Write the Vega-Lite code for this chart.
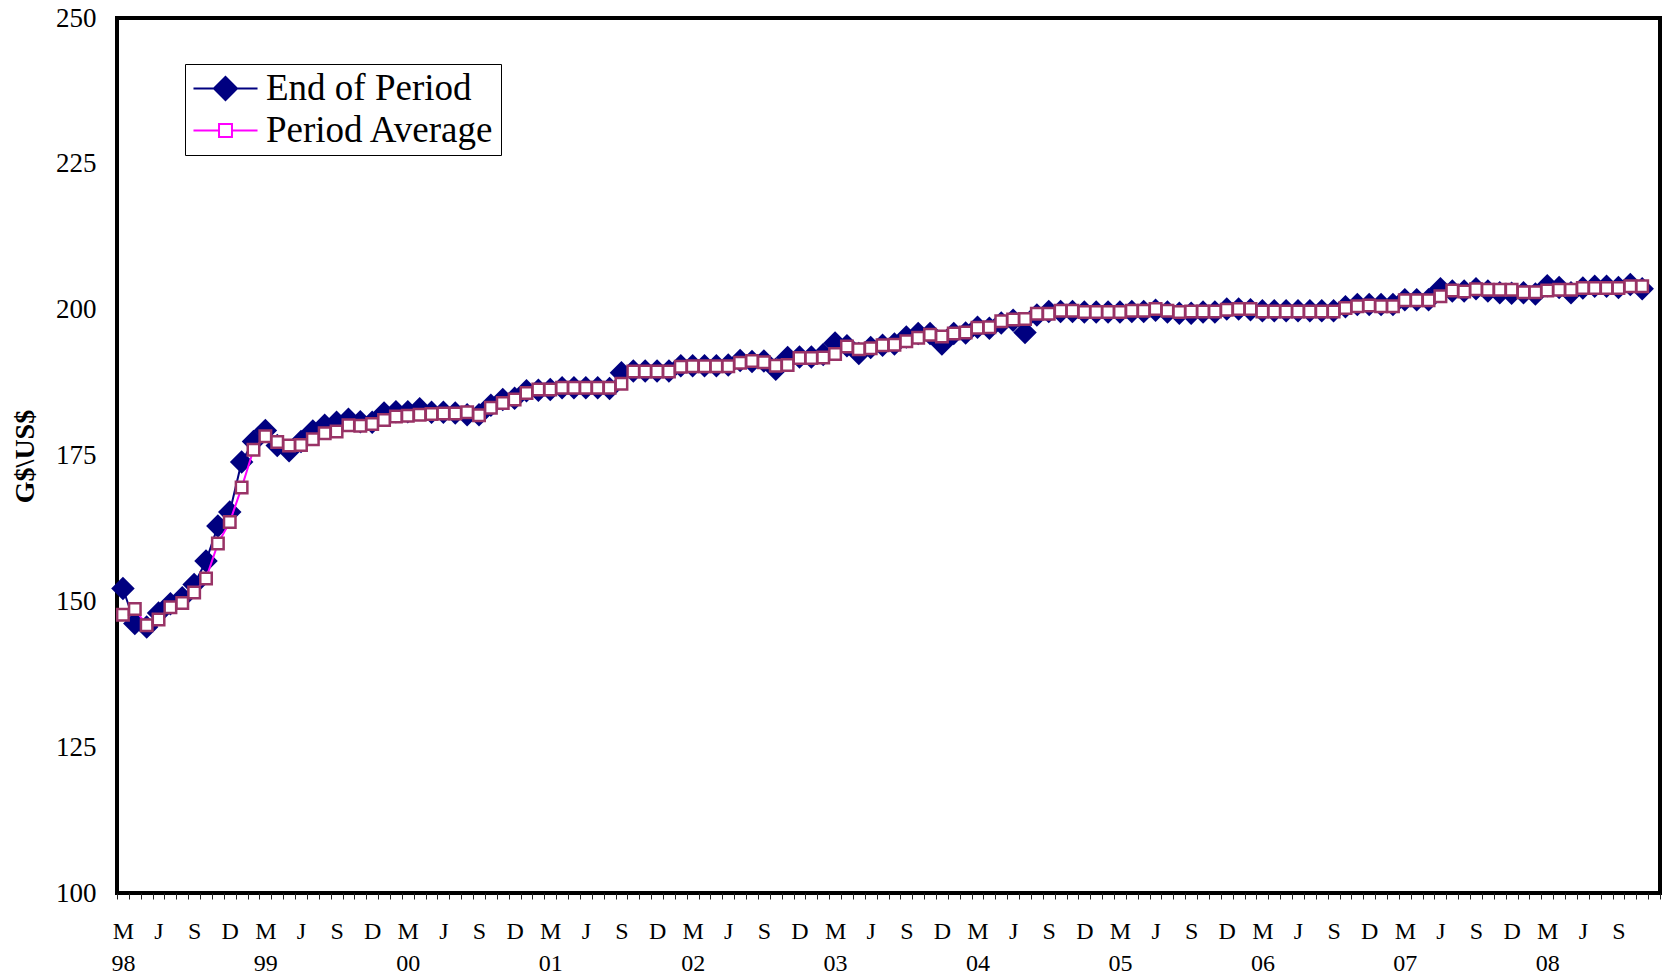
{
  "$schema": "https://vega.github.io/schema/vega-lite/v6.json",
  "width": 1543,
  "height": 875,
  "autosize": {"type": "none"},
  "padding": {"left": 117, "top": 18, "right": 9, "bottom": 87},
  "background": "white",
  "config": {
    "view": {"stroke": "#000000", "strokeWidth": 4},
    "font": "Liberation Serif"
  },
  "data": {
    "values": [
      {"m": "1998-03", "End of Period": 152.2, "Period Average": 147.7},
      {"m": "1998-04", "End of Period": 146.2, "Period Average": 148.7},
      {"m": "1998-05", "End of Period": 145.6, "Period Average": 145.9},
      {"m": "1998-06", "End of Period": 148.0, "Period Average": 146.9},
      {"m": "1998-07", "End of Period": 149.6, "Period Average": 149.0},
      {"m": "1998-08", "End of Period": 150.6, "Period Average": 149.7},
      {"m": "1998-09", "End of Period": 152.9, "Period Average": 151.5},
      {"m": "1998-10", "End of Period": 156.9, "Period Average": 153.9},
      {"m": "1998-11", "End of Period": 162.9, "Period Average": 159.9},
      {"m": "1998-12", "End of Period": 165.3, "Period Average": 163.6},
      {"m": "1999-01", "End of Period": 173.9, "Period Average": 169.5},
      {"m": "1999-02", "End of Period": 177.4, "Period Average": 176.0},
      {"m": "1999-03", "End of Period": 179.3, "Period Average": 178.3},
      {"m": "1999-04", "End of Period": 176.7, "Period Average": 177.3},
      {"m": "1999-05", "End of Period": 175.8, "Period Average": 176.7},
      {"m": "1999-06", "End of Period": 177.4, "Period Average": 176.8},
      {"m": "1999-07", "End of Period": 179.2, "Period Average": 177.8},
      {"m": "1999-08", "End of Period": 180.2, "Period Average": 178.8},
      {"m": "1999-09", "End of Period": 180.7, "Period Average": 179.1},
      {"m": "1999-10", "End of Period": 181.2, "Period Average": 180.2},
      {"m": "1999-11", "End of Period": 180.8, "Period Average": 180.1},
      {"m": "1999-12", "End of Period": 180.7, "Period Average": 180.4},
      {"m": "2000-01", "End of Period": 182.3, "Period Average": 181.1},
      {"m": "2000-02", "End of Period": 182.5, "Period Average": 181.7},
      {"m": "2000-03", "End of Period": 182.5, "Period Average": 181.8},
      {"m": "2000-04", "End of Period": 183.0, "Period Average": 182.0},
      {"m": "2000-05", "End of Period": 182.4, "Period Average": 182.1},
      {"m": "2000-06", "End of Period": 182.4, "Period Average": 182.2},
      {"m": "2000-07", "End of Period": 182.3, "Period Average": 182.2},
      {"m": "2000-08", "End of Period": 182.0, "Period Average": 182.4},
      {"m": "2000-09", "End of Period": 182.0, "Period Average": 181.9},
      {"m": "2000-10", "End of Period": 183.6, "Period Average": 183.2},
      {"m": "2000-11", "End of Period": 184.6, "Period Average": 184.0},
      {"m": "2000-12", "End of Period": 184.8, "Period Average": 184.6},
      {"m": "2001-01", "End of Period": 186.1, "Period Average": 185.7},
      {"m": "2001-02", "End of Period": 186.2, "Period Average": 186.3},
      {"m": "2001-03", "End of Period": 186.3, "Period Average": 186.3},
      {"m": "2001-04", "End of Period": 186.6, "Period Average": 186.6},
      {"m": "2001-05", "End of Period": 186.6, "Period Average": 186.6},
      {"m": "2001-06", "End of Period": 186.6, "Period Average": 186.6},
      {"m": "2001-07", "End of Period": 186.6, "Period Average": 186.6},
      {"m": "2001-08", "End of Period": 186.5, "Period Average": 186.6},
      {"m": "2001-09", "End of Period": 189.2, "Period Average": 187.3},
      {"m": "2001-10", "End of Period": 189.5, "Period Average": 189.4},
      {"m": "2001-11", "End of Period": 189.5, "Period Average": 189.4},
      {"m": "2001-12", "End of Period": 189.5, "Period Average": 189.4},
      {"m": "2002-01", "End of Period": 189.5, "Period Average": 189.4},
      {"m": "2002-02", "End of Period": 190.4, "Period Average": 190.2},
      {"m": "2002-03", "End of Period": 190.4, "Period Average": 190.3},
      {"m": "2002-04", "End of Period": 190.4, "Period Average": 190.3},
      {"m": "2002-05", "End of Period": 190.4, "Period Average": 190.3},
      {"m": "2002-06", "End of Period": 190.5, "Period Average": 190.3},
      {"m": "2002-07", "End of Period": 191.3, "Period Average": 190.9},
      {"m": "2002-08", "End of Period": 191.1, "Period Average": 191.2},
      {"m": "2002-09", "End of Period": 191.2, "Period Average": 191.0},
      {"m": "2002-10", "End of Period": 189.8, "Period Average": 190.4},
      {"m": "2002-11", "End of Period": 191.8, "Period Average": 190.5},
      {"m": "2002-12", "End of Period": 191.9, "Period Average": 191.7},
      {"m": "2003-01", "End of Period": 191.9, "Period Average": 191.7},
      {"m": "2003-02", "End of Period": 192.3, "Period Average": 191.8},
      {"m": "2003-03", "End of Period": 194.3, "Period Average": 192.4},
      {"m": "2003-04", "End of Period": 193.8, "Period Average": 193.7},
      {"m": "2003-05", "End of Period": 192.5, "Period Average": 193.2},
      {"m": "2003-06", "End of Period": 193.5, "Period Average": 193.4},
      {"m": "2003-07", "End of Period": 193.9, "Period Average": 193.9},
      {"m": "2003-08", "End of Period": 194.1, "Period Average": 194.0},
      {"m": "2003-09", "End of Period": 195.3, "Period Average": 194.6},
      {"m": "2003-10", "End of Period": 195.9, "Period Average": 195.2},
      {"m": "2003-11", "End of Period": 195.9, "Period Average": 195.7},
      {"m": "2003-12", "End of Period": 194.1, "Period Average": 195.4},
      {"m": "2004-01", "End of Period": 195.9, "Period Average": 195.9},
      {"m": "2004-02", "End of Period": 196.0, "Period Average": 196.1},
      {"m": "2004-03", "End of Period": 197.0, "Period Average": 196.9},
      {"m": "2004-04", "End of Period": 196.8, "Period Average": 197.0},
      {"m": "2004-05", "End of Period": 197.7, "Period Average": 198.0},
      {"m": "2004-06", "End of Period": 198.2, "Period Average": 198.3},
      {"m": "2004-07", "End of Period": 196.1, "Period Average": 198.4},
      {"m": "2004-08", "End of Period": 199.1, "Period Average": 199.3},
      {"m": "2004-09", "End of Period": 199.7, "Period Average": 199.3},
      {"m": "2004-10", "End of Period": 199.7, "Period Average": 199.8},
      {"m": "2004-11", "End of Period": 199.7, "Period Average": 199.8},
      {"m": "2004-12", "End of Period": 199.6, "Period Average": 199.6},
      {"m": "2005-01", "End of Period": 199.6, "Period Average": 199.6},
      {"m": "2005-02", "End of Period": 199.6, "Period Average": 199.6},
      {"m": "2005-03", "End of Period": 199.6, "Period Average": 199.6},
      {"m": "2005-04", "End of Period": 199.7, "Period Average": 199.8},
      {"m": "2005-05", "End of Period": 199.7, "Period Average": 199.8},
      {"m": "2005-06", "End of Period": 199.9, "Period Average": 200.1},
      {"m": "2005-07", "End of Period": 199.6, "Period Average": 199.8},
      {"m": "2005-08", "End of Period": 199.4, "Period Average": 199.6},
      {"m": "2005-09", "End of Period": 199.4, "Period Average": 199.7},
      {"m": "2005-10", "End of Period": 199.6, "Period Average": 199.7},
      {"m": "2005-11", "End of Period": 199.6, "Period Average": 199.7},
      {"m": "2005-12", "End of Period": 200.1, "Period Average": 200.0},
      {"m": "2006-01", "End of Period": 200.1, "Period Average": 200.1},
      {"m": "2006-02", "End of Period": 200.0, "Period Average": 200.1},
      {"m": "2006-03", "End of Period": 199.8, "Period Average": 199.7},
      {"m": "2006-04", "End of Period": 199.8, "Period Average": 199.7},
      {"m": "2006-05", "End of Period": 199.8, "Period Average": 199.7},
      {"m": "2006-06", "End of Period": 199.8, "Period Average": 199.7},
      {"m": "2006-07", "End of Period": 199.8, "Period Average": 199.7},
      {"m": "2006-08", "End of Period": 199.8, "Period Average": 199.7},
      {"m": "2006-09", "End of Period": 199.8, "Period Average": 199.7},
      {"m": "2006-10", "End of Period": 200.5, "Period Average": 200.3},
      {"m": "2006-11", "End of Period": 200.9, "Period Average": 200.6},
      {"m": "2006-12", "End of Period": 200.9, "Period Average": 200.7},
      {"m": "2007-01", "End of Period": 200.9, "Period Average": 200.6},
      {"m": "2007-02", "End of Period": 200.9, "Period Average": 200.6},
      {"m": "2007-03", "End of Period": 201.7, "Period Average": 201.6},
      {"m": "2007-04", "End of Period": 201.7, "Period Average": 201.6},
      {"m": "2007-05", "End of Period": 201.7, "Period Average": 201.6},
      {"m": "2007-06", "End of Period": 203.6, "Period Average": 202.3},
      {"m": "2007-07", "End of Period": 203.2, "Period Average": 203.3},
      {"m": "2007-08", "End of Period": 203.2, "Period Average": 203.1},
      {"m": "2007-09", "End of Period": 203.6, "Period Average": 203.5},
      {"m": "2007-10", "End of Period": 203.2, "Period Average": 203.4},
      {"m": "2007-11", "End of Period": 202.9, "Period Average": 203.4},
      {"m": "2007-12", "End of Period": 202.8, "Period Average": 203.4},
      {"m": "2008-01", "End of Period": 202.9, "Period Average": 203.0},
      {"m": "2008-02", "End of Period": 202.7, "Period Average": 203.0},
      {"m": "2008-03", "End of Period": 204.1, "Period Average": 203.3},
      {"m": "2008-04", "End of Period": 203.8, "Period Average": 203.4},
      {"m": "2008-05", "End of Period": 202.9, "Period Average": 203.4},
      {"m": "2008-06", "End of Period": 203.7, "Period Average": 203.7},
      {"m": "2008-07", "End of Period": 204.0, "Period Average": 203.7},
      {"m": "2008-08", "End of Period": 204.0, "Period Average": 203.7},
      {"m": "2008-09", "End of Period": 203.8, "Period Average": 203.7},
      {"m": "2008-10", "End of Period": 204.3, "Period Average": 204.0},
      {"m": "2008-11", "End of Period": 203.6, "Period Average": 204.0}
    ]
  },
  "transform": [
    {"fold": ["End of Period", "Period Average"], "as": ["series", "value"]}
  ],
  "encoding": {
    "x": {
      "field": "m",
      "type": "ordinal",
      "bandPosition": 0.5,
      "scale": {
        "type": "band",
        "paddingInner": 0,
        "paddingOuter": 0,
        "domain": [
          "1998-03","1998-04","1998-05","1998-06","1998-07","1998-08","1998-09","1998-10","1998-11","1998-12",
          "1999-01","1999-02","1999-03","1999-04","1999-05","1999-06","1999-07","1999-08","1999-09","1999-10","1999-11","1999-12",
          "2000-01","2000-02","2000-03","2000-04","2000-05","2000-06","2000-07","2000-08","2000-09","2000-10","2000-11","2000-12",
          "2001-01","2001-02","2001-03","2001-04","2001-05","2001-06","2001-07","2001-08","2001-09","2001-10","2001-11","2001-12",
          "2002-01","2002-02","2002-03","2002-04","2002-05","2002-06","2002-07","2002-08","2002-09","2002-10","2002-11","2002-12",
          "2003-01","2003-02","2003-03","2003-04","2003-05","2003-06","2003-07","2003-08","2003-09","2003-10","2003-11","2003-12",
          "2004-01","2004-02","2004-03","2004-04","2004-05","2004-06","2004-07","2004-08","2004-09","2004-10","2004-11","2004-12",
          "2005-01","2005-02","2005-03","2005-04","2005-05","2005-06","2005-07","2005-08","2005-09","2005-10","2005-11","2005-12",
          "2006-01","2006-02","2006-03","2006-04","2006-05","2006-06","2006-07","2006-08","2006-09","2006-10","2006-11","2006-12",
          "2007-01","2007-02","2007-03","2007-04","2007-05","2007-06","2007-07","2007-08","2007-09","2007-10","2007-11","2007-12",
          "2008-01","2008-02","2008-03","2008-04","2008-05","2008-06","2008-07","2008-08","2008-09","2008-10","2008-11","2008-12"
        ]
      },
      "axis": {
        "title": null,
        "domain": false,
        "grid": false,
        "ticks": true,
        "tickBand": "extent",
        "tickSize": 6,
        "tickWidth": 1,
        "tickColor": "#222222",
        "labelAngle": 0,
        "labelAlign": "center",
        "labelBaseline": "top",
        "labelFont": "Liberation Serif",
        "labelFontSize": 24,
        "labelColor": "#000000",
        "labelPadding": 20,
        "labelLineHeight": 32,
        "labelOverlap": false,
        "labelBound": false,
        "labelExpr": "datum.value == '2008-12' ? '' : substring(datum.value,5,7)=='03' ? ['M', substring(datum.value,2,4)] : substring(datum.value,5,7)=='06' ? 'J' : substring(datum.value,5,7)=='09' ? 'S' : substring(datum.value,5,7)=='12' ? 'D' : ''"
      }
    },
    "y": {
      "field": "value",
      "type": "quantitative",
      "scale": {"domain": [100, 250], "nice": false, "zero": false},
      "axis": {
        "values": [100, 125, 150, 175, 200, 225, 250],
        "domain": false,
        "grid": false,
        "ticks": false,
        "labelFont": "Liberation Serif",
        "labelFontSize": 27,
        "labelColor": "#000000",
        "labelPadding": 21,
        "title": "G$\\US$",
        "titleFont": "Liberation Serif",
        "titleFontSize": 28,
        "titleFontWeight": "bold",
        "titleColor": "#000000",
        "titleAngle": -90,
        "titleX": -92,
        "titleY": 438,
        "titleAlign": "center",
        "titleBaseline": "middle"
      }
    }
  },
  "layer": [
    {
      "transform": [{"filter": "datum.series === 'End of Period'"}],
      "mark": {"type": "line", "strokeWidth": 2},
      "encoding": {
        "color": {
          "field": "series",
          "type": "nominal",
          "scale": {"domain": ["End of Period", "Period Average"], "range": ["#000080", "#FF00FF"]},
          "legend": {
            "title": null,
            "orient": "none",
            "legendX": 68,
            "legendY": 46,
            "direction": "vertical",
            "strokeColor": "#000000",
            "fillColor": "#ffffff",
            "padding": 6,
            "rowPadding": 4,
            "labelFont": "Liberation Serif",
            "labelFontSize": 37,
            "labelColor": "#000000",
            "labelLimit": 0,
            "symbolSize": 1225,
            "symbolOffset": 16,
            "labelOffset": 22,
            "symbolStrokeWidth": 2,
            "symbolType": {"expr": "datum.value === 'End of Period' ? 'M-1.83,0H1.83M-0.66,0L0,-0.66L0.66,0L0,0.66Z' : 'M-1.83,0H-0.37M0.37,0H1.83M-0.37,-0.37H0.37V0.37H-0.37Z'"},
            "symbolFillColor": {"expr": "datum.value === 'End of Period' ? '#000080' : '#ffffff'"},
            "symbolStrokeColor": {"expr": "datum.value === 'End of Period' ? '#000080' : '#CC33AA'"}
          }
        }
      }
    },
    {
      "transform": [{"filter": "datum.series === 'End of Period'"}],
      "mark": {"type": "point", "shape": "diamond", "filled": true, "size": 552, "color": "#000080", "opacity": 1}
    },
    {
      "transform": [{"filter": "datum.series === 'Period Average'"}],
      "mark": {"type": "line", "strokeWidth": 2},
      "encoding": {
        "color": {
          "field": "series",
          "type": "nominal",
          "scale": {"domain": ["End of Period", "Period Average"], "range": ["#000080", "#FF00FF"]}
        }
      }
    },
    {
      "transform": [{"filter": "datum.series === 'Period Average'"}],
      "mark": {"type": "point", "shape": "square", "filled": true, "size": 132, "fill": "#ffffff", "stroke": "#993366", "strokeWidth": 2.5, "opacity": 1}
    }
  ]
}
